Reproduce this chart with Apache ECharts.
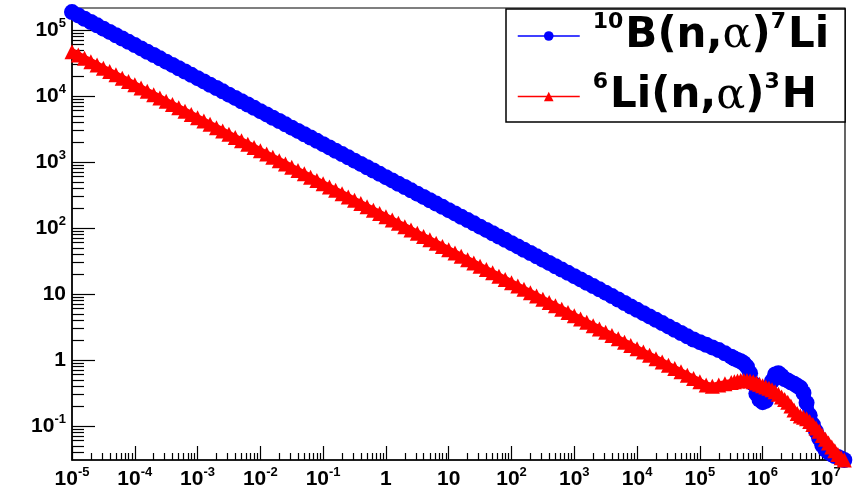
<!DOCTYPE html>
<html><head><meta charset="utf-8">
<script src="https://cdn.jsdelivr.net/npm/echarts@6/dist/echarts.min.js"></script>
<style>html,body{margin:0;padding:0;background:#fff}#c{width:854px;height:493px}</style>
</head><body><div id="c"></div>
<script>
// Neutron energy (eV)
const energies = [
  1e-5,1.26e-5,1.58e-5,2e-5,2.51e-5,3.16e-5,3.98e-5,5.01e-5,6.31e-5,7.94e-5,
  1e-4,1.26e-4,1.58e-4,2e-4,2.51e-4,3.16e-4,3.98e-4,5.01e-4,6.31e-4,7.94e-4,
  1e-3,1.26e-3,1.58e-3,2e-3,2.51e-3,3.16e-3,3.98e-3,5.01e-3,6.31e-3,7.94e-3,
  0.01,0.0126,0.0158,0.02,0.0251,0.0316,0.0398,0.0501,0.0631,0.0794,
  0.1,0.126,0.158,0.2,0.251,0.316,0.398,0.501,0.631,0.794,
  1,1.26,1.58,2,2.51,3.16,3.98,5.01,6.31,7.94,
  10,12.6,15.8,20,25.1,31.6,39.8,50.1,63.1,79.4,
  100,126,158,200,251,316,398,501,631,794,
  1000,1260,1580,2000,2510,3160,3980,5010,6310,7940,
  1e4,1.26e4,1.58e4,2e4,2.51e4,3.16e4,3.98e4,5.01e4,6.31e4,7.94e4,
  1e5,1.26e5,1.58e5,2e5,2.51e5,3.16e5,3.55e5,3.98e5,4.47e5,5.01e5,5.62e5,6.31e5,7.08e5,7.94e5,8.91e5,
  1e6,1.12e6,1.26e6,1.41e6,1.58e6,1.78e6,2e6,2.24e6,2.51e6,2.82e6,3.16e6,3.55e6,3.98e6,4.47e6,5.01e6,5.62e6,6.31e6,7.08e6,7.94e6,8.91e6,
  1e7,1.12e7,1.26e7,1.41e7,1.58e7,1.78e7,2e7
];
// 10B(n,alpha)7Li cross section (b)
const sigmaB10 = [
  186200,166000,147900,131800,117500,104700,93330,83180,74130,66070,
  58880,52480,46770,41690,37150,33110,29510,26300,23440,20890,
  18620,16600,14790,13180,11750,10470,9333,8318,7413,6607,
  5888,5248,4677,4169,3715,3311,2951,2630,2344,2089,
  1862,1660,1479,1318,1175,1047,933.3,831.8,741.3,660.7,
  588.8,524.8,467.7,416.9,371.5,331.1,295.1,263.0,234.4,208.9,
  186.2,166.0,147.9,131.8,117.5,104.7,93.33,83.18,74.13,66.07,
  58.88,52.48,46.77,41.69,37.15,33.11,29.51,26.30,23.44,20.89,
  18.62,16.60,14.79,13.18,11.75,10.47,9.30,8.25,7.30,6.45,
  5.75,5.12,4.56,4.06,3.62,3.22,2.87,2.56,2.28,2.04,
  1.86,1.70,1.55,1.41,1.26,1.12,1.05,1.0,0.955,0.891,0.794,0.631,0.437,0.31,0.251,
  0.229,0.24,0.316,0.479,0.603,0.631,0.575,0.513,0.49,0.457,0.437,0.407,0.38,0.316,0.224,0.145,0.105,0.083,0.065,0.051,
  0.044,0.04,0.037,0.035,0.034,0.032,0.0305
];
// 6Li(n,alpha)3H cross section (b)
const sigmaLi6 = [
  46770,41690,37150,33110,29510,26300,23440,20890,18620,16600,
  14790,13180,11750,10470,9333,8318,7413,6607,5888,5248,
  4677,4169,3715,3311,2951,2630,2344,2089,1862,1660,
  1479,1318,1175,1047,933.3,831.8,741.3,660.7,588.8,524.8,
  467.7,416.9,371.5,331.1,295.1,263.0,234.4,208.9,186.2,166.0,
  147.9,131.8,117.5,104.7,93.33,83.18,74.13,66.07,58.88,52.48,
  46.77,41.69,37.15,33.11,29.51,26.30,23.44,20.89,18.62,16.60,
  14.79,13.18,11.75,10.47,9.333,8.318,7.413,6.607,5.888,5.248,
  4.677,4.169,3.715,3.311,2.951,2.630,2.344,2.089,1.862,1.660,
  1.479,1.318,1.175,1.047,0.9333,0.8318,0.7413,0.6607,0.5888,0.5248,
  0.468,0.417,0.398,0.417,0.437,0.457,0.468,0.479,0.49,0.49,0.49,0.479,0.468,0.447,0.427,
  0.407,0.389,0.372,0.355,0.331,0.302,0.275,0.251,0.229,0.2,0.174,0.155,0.141,0.135,0.129,0.117,0.105,0.093,0.083,0.072,
  0.063,0.055,0.048,0.042,0.037,0.033,0.0305
];
const seriesNames = ['B10', 'Li6'];
const legendLabels = ['{g|}{s|10}{b|B(n,}{a|α}{b|)}{s|7}{b|Li}', '{g|}{s|6}{b|Li(n,}{a|α}{b|)}{s|3}{b|H}'];
const xMajorTicks = [1e-5,1e-4,1e-3,1e-2,1e-1,1,10,100,1e3,1e4,1e5,1e6,1e7];
const yMajorTicks = [0.1,1,10,100,1e3,1e4,1e5];
const xRange = [1e-5, 2.05e7];
const yRange = [0.0305, 2.15e5];

function minorTicks(range) {
  const out = [];
  const d0 = Math.floor(Math.log10(range[0])), d1 = Math.ceil(Math.log10(range[1]));
  for (let d = d0; d <= d1; d++) for (let k = 2; k <= 9; k++) {
    const v = +(k * Math.pow(10, d)).toPrecision(6);
    if (v > range[0] && v < range[1]) out.push(v);
  }
  return out;
}
function powLabel(v) {
  const e = Math.round(Math.log10(v));
  if (e === 0) return '{b|1}';
  if (e === 1) return '{b|10}';
  return '{b|10}{s|' + e + '}';
}
const labelRich = {
  b: {fontSize: 21, fontWeight: 'bold', fontFamily: 'Liberation Sans', color: '#000', lineHeight: 26},
  s: {fontSize: 13, fontWeight: 'bold', fontFamily: 'Liberation Sans', color: '#000', lineHeight: 15, verticalAlign: 'top'}
};
const GRID = {left: 72, right: 9, top: 8, bottom: 33};

const chart = echarts.init(document.getElementById('c'), null, {renderer: 'canvas'});
chart.setOption({
  animation: false,
  backgroundColor: '#fff',
  grid: Object.assign({show: true, borderColor: '#000', borderWidth: 1.2, containLabel: false}, GRID),
  xAxis: [
    {type: 'log', logBase: 10, min: xRange[0], max: xRange[1], position: 'bottom',
     axisLine: {show: true, lineStyle: {color: '#000', width: 1.5}},
     axisTick: {show: true, inside: true, length: 14, customValues: xMajorTicks, lineStyle: {color: '#000', width: 1.2}},
     axisLabel: {show: true, customValues: xMajorTicks, margin: 6, formatter: powLabel, rich: labelRich},
     splitLine: {show: false}, minorTick: {show: false}},
    {type: 'log', logBase: 10, min: xRange[0], max: xRange[1], position: 'bottom',
     axisLine: {show: false},
     axisTick: {show: true, inside: true, length: 7, customValues: minorTicks(xRange), lineStyle: {color: '#000', width: 1.2}},
     axisLabel: {show: false}, splitLine: {show: false}}
  ],
  yAxis: [
    {type: 'log', logBase: 10, min: yRange[0], max: yRange[1], position: 'left',
     axisLine: {show: true, lineStyle: {color: '#000', width: 1.5}},
     axisTick: {show: true, inside: true, length: 23, customValues: yMajorTicks, lineStyle: {color: '#000', width: 1.2}},
     axisLabel: {show: true, customValues: yMajorTicks, margin: 6, formatter: powLabel, rich: labelRich},
     splitLine: {show: false}, minorTick: {show: false}},
    {type: 'log', logBase: 10, min: yRange[0], max: yRange[1], position: 'left',
     axisLine: {show: false},
     axisTick: {show: true, inside: true, length: 12, customValues: minorTicks(yRange), lineStyle: {color: '#000', width: 1.2}},
     axisLabel: {show: false}, splitLine: {show: false}}
  ],
  legend: {
    orient: 'vertical', left: 506, top: 9,
    padding: [2, 16, 4, 11],
    itemWidth: 62, itemHeight: 12, itemGap: 14,
    backgroundColor: '#fff', borderColor: '#000', borderWidth: 1.5,
    selectedMode: false,
    lineStyle: {width: 1.5},
    data: seriesNames,
    formatter: function (name) { return legendLabels[seriesNames.indexOf(name)]; },
    textStyle: {
      rich: {
        g: {width: 8},
        b: {fontSize: 42, fontWeight: 'bold', fontFamily: 'DejaVu Sans', color: '#000', lineHeight: 50},
        a: {fontSize: 43, fontFamily: 'DejaVu Serif', color: '#000', lineHeight: 50},
        s: {fontSize: 22, fontWeight: 'bold', fontFamily: 'DejaVu Sans', color: '#000', lineHeight: 22, verticalAlign: 'top', padding: [0, 2, 0, 0]}
      }
    }
  },
  series: [
    {name: seriesNames[0], type: 'line', xAxisIndex: 0, yAxisIndex: 0,
     data: energies.map((e, i) => [e, sigmaB10[i]]),
     symbol: 'circle', symbolSize: 16, showSymbol: true, silent: true,
     itemStyle: {color: '#0000ff'}, lineStyle: {color: '#0000ff', width: 12}},
    {name: seriesNames[1], type: 'line', xAxisIndex: 0, yAxisIndex: 0,
     data: energies.map((e, i) => [e, sigmaLi6[i]]),
     symbol: 'triangle', symbolSize: 15, showSymbol: true, silent: true,
     itemStyle: {color: '#ff0000'}, lineStyle: {color: '#ff0000', width: 7}}
  ]
});
</script>
</body></html>
